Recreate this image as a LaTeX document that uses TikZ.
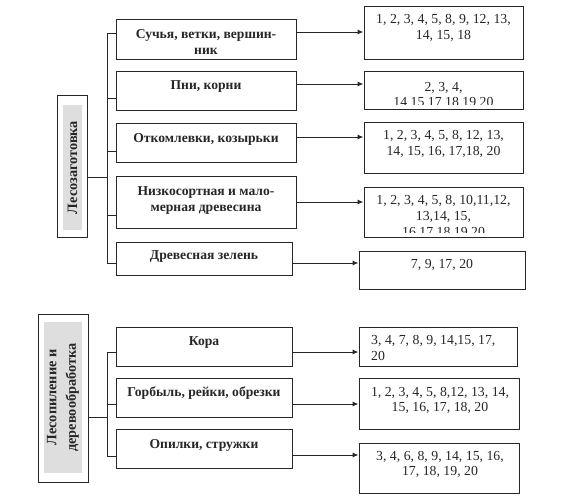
\documentclass[tikz,border=0pt]{standalone}
\usepackage{fontspec}
\setmainfont{Liberation Serif}
\usetikzlibrary{arrows.meta}
\begin{document}
\begin{tikzpicture}[x=1pt,y=-1pt,
  box/.style={draw=black!85, line width=1pt, inner sep=0pt},
  ln/.style={draw=black!85, line width=1pt},
  arr/.style={draw=black!85, line width=1pt, -{Latex[length=6pt,width=5pt]}},
  txtb/.style={font=\bfseries\fontsize{13.6}{16}\selectfont, align=center, text=black!85, inner sep=0pt},
  txtr/.style={font=\bfseries\fontsize{14.3}{19.5}\selectfont, align=center, text=black!85, inner sep=0pt},
  txtn/.style={font=\fontsize{13.8}{15.8}\selectfont, align=center, text=black!85, inner sep=0pt},
  grayfill/.style={fill=black!13, inner sep=0pt}]
\useasboundingbox (0,0) rectangle (564,496);

% ===== Top section: Lesozagotovka =====
\node[box, minimum width=30pt, minimum height=142pt] (L1) at (72,166) {};
\node[grayfill, txtr, rotate=90, minimum width=125pt, minimum height=19pt] (L1t) at (72.5,167.5) {Лесозаготовка};

\node[box, minimum width=180pt, minimum height=40pt] (lb1) at (206,39) {};
\node[box, minimum width=180pt, minimum height=39pt] (lb2) at (206,90.5) {};
\node[box, minimum width=180pt, minimum height=39pt] (lb3) at (206,142.5) {};
\node[box, minimum width=180pt, minimum height=52pt] (lb4) at (206,202) {};
\node[box, minimum width=176pt, minimum height=33pt] (lb5) at (204,258.5) {};

\node[txtb] (tl1) at (206,41.5) {Сучья, ветки, вершин-\\ник};
\node[txtb] (tl2) at (206,86.5) {Пни, корни};
\node[txtb] (tl3) at (206,139) {Откомлевки, козырьки};
\node[txtb] (tl4) at (206,200.5) {Низкосортная и мало-\\мерная древесина};
\node[txtb] (tl5) at (204,256) {Древесная зелень};

% right boxes
\node[box, minimum width=159pt, minimum height=53pt] (r1) at (443.5,32.5) {};
\node[txtn] (tr1) at (443.5,28) {1, 2, 3, 4, 5, 8, 9, 12, 13,\\14, 15, 18};

\begin{scope}
  \clip (364,71) rectangle (523,104);
  \node[txtn] (tr2) at (443.5,94.5) {2, 3, 4,\\14 15 17 18 19 20};
\end{scope}
\node[box, minimum width=159pt, minimum height=38pt] (r2) at (443.5,90) {};

\node[box, minimum width=159pt, minimum height=51pt] (r3) at (443.5,147.5) {};
\node[txtn] (tr3) at (443.5,144) {1, 2, 3, 4, 5, 8, 12, 13,\\14, 15, 16, 17,18, 20};

\begin{scope}
  \clip (364,187) rectangle (523,232);
  \node[txtn] (tr4) at (443.5,216) {1, 2, 3, 4, 5, 8, 10,11,12,\\13,14, 15,\\16 17 18 19 20};
\end{scope}
\node[box, minimum width=159pt, minimum height=50pt] (r4) at (443.5,212) {};

\node[box, minimum width=166pt, minimum height=38pt] (r5) at (442,270) {};
\node[txtn] (tr5) at (442,265) {7, 9, 17, 20};

% bus and branches
\coordinate (ba) at (107,0);
\draw[ln] (ba |- 0,33) -- (ba |- 0,263);
\draw[ln] (ba |- 0,33) -- (lb1.west |- 0,33);
\draw[ln] (ba |- 0,98) -- (lb2.west |- 0,98);
\draw[ln] (ba |- 0,151) -- (lb3.west |- 0,151);
\draw[ln] (ba |- 0,215) -- (lb4.west |- 0,215);
\draw[ln] (ba |- 0,263) -- (lb5.west |- 0,263);
\draw[ln] (L1.east |- 0,177) -- (ba |- 0,177);

% arrows
\draw[arr] (lb1.east |- 0,32) -- (r1.west |- 0,32);
\draw[arr] (lb2.east |- 0,84) -- (r2.west |- 0,84);
\draw[arr] (lb3.east |- 0,137) -- (r3.west |- 0,137);
\draw[arr] (lb4.east |- 0,202) -- (r4.west |- 0,202);
\draw[arr] (lb5.east |- 0,263) -- (r5.west |- 0,263);

% ===== Bottom section =====
\node[box, minimum width=50pt, minimum height=168pt] (L2) at (63,398) {};
\node[grayfill, txtr, rotate=90, minimum width=151pt, minimum height=38pt] (L2t) at (63,397.5) {Лесопиление и\\деревообработка};

\node[box, minimum width=176pt, minimum height=39pt] (lb6) at (204,346.5) {};
\node[box, minimum width=176pt, minimum height=39pt] (lb7) at (204,397.5) {};
\node[box, minimum width=176pt, minimum height=39pt] (lb8) at (204,448.5) {};
\node[txtb] (tl6) at (204,342) {Кора};
\node[txtb] (tl7) at (204,393) {Горбыль, рейки, обрезки};
\node[txtb] (tl8) at (204,445) {Опилки, стружки};

\node[box, minimum width=158pt, minimum height=39pt] (br1) at (438,346.5) {};
\node[txtn, align=left, anchor=west] (tbr1) at (371,348) {3, 4, 7, 8, 9, 14,15, 17,\\20};
\node[box, minimum width=160pt, minimum height=51pt] (br2) at (439,403.5) {};
\node[txtn] (tbr2) at (440,400.5) {1, 2, 3, 4, 5, 8,12, 13, 14,\\15, 16, 17, 18, 20};
\node[box, minimum width=160pt, minimum height=50pt] (br3) at (439,468) {};
\node[txtn] (tbr3) at (440,464.5) {3, 4, 6, 8, 9, 14, 15, 16,\\17, 18, 19, 20};

\coordinate (bb) at (107,0);
\draw[ln] (bb |- 0,352) -- (bb |- 0,456);
\draw[ln] (bb |- 0,352) -- (lb6.west |- 0,352);
\draw[ln] (bb |- 0,404) -- (lb7.west |- 0,404);
\draw[ln] (bb |- 0,456) -- (lb8.west |- 0,456);
\draw[ln] (L2.east |- 0,417) -- (bb |- 0,417);

\draw[arr] (lb6.east |- 0,352) -- (br1.west |- 0,352);
\draw[arr] (lb7.east |- 0,404) -- (br2.west |- 0,404);
\draw[arr] (lb8.east |- 0,455) -- (br3.west |- 0,455);
\end{tikzpicture}
\end{document}
